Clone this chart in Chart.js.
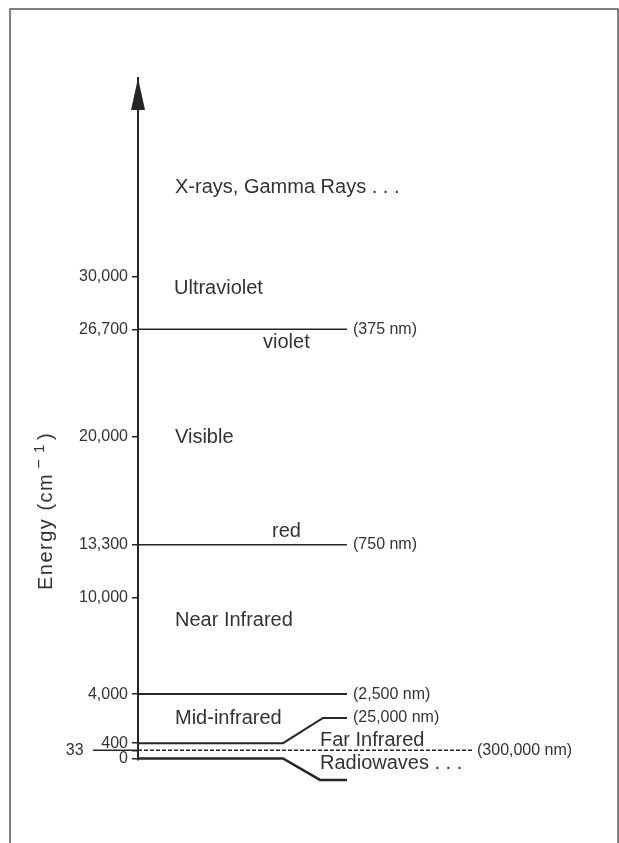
<!DOCTYPE html>
<html>
<head>
<meta charset="utf-8">
<script src="https://cdn.jsdelivr.net/npm/chart.js@4.4.0/dist/chart.umd.min.js"></script>
<style>
  html, body { margin: 0; padding: 0; background: #fff; }
  canvas { display: block; }
</style>
</head>
<body>
<canvas id="spectrumChart" width="619" height="843"></canvas>
<script>
// energy ticks on the axis (cm-1)
const tickValues = [0, 33, 400, 4000, 10000, 13300, 20000, 26700, 30000];

// boundary lines: x runs along the diagram, e is energy in cm-1
const lineX = [
    [0, 209],
    [0, 209],
    [0, 209],
    [0, 145, 185, 209],
    [-45, 0, 335],
    [0, 145, 182, 209]
];
const lineE = [
    [26700, 26700],
    [13300, 13300],
    [4000, 4000],
    [400, 400, 2250, 2250],
    [33, 33, 33],
    [0, 0, -1340, -1340]
];
const lineWidths = [1.5, 1.5, 2, 2, 1.5, 2.5];

// region names
const regionNames = ['X-rays, Gamma Rays . . .', 'Ultraviolet', 'violet', 'Visible', 'red',
    'Near Infrared', 'Mid-infrared', 'Far Infrared', 'Radiowaves . . .'];
const regionX = [37, 36, 125, 37, 134, 37, 37, 182, 182];
const regionE = [35550, 29270, 25900, 19940, 14090, 8600, 2190, 630, -290];

// wavelength of each boundary
const wavelengthNames = ['(375 nm)', '(750 nm)', '(2,500 nm)', '(25,000 nm)', '(300,000 nm)'];
const wavelengthX = [215, 215, 215, 215, 339];
const wavelengthE = [26700, 13300, 4000, 2250, 33];

const FONT = "'Liberation Sans', Arial, sans-serif";
const INK = '#262626';
const TEXT = '#333';

// the low end of the axis is stretched so 0, 33 and 400 can be told apart
const warpFrom = [-5000, 0, 33, 400, 4000, 60000];
const warpTo = [-5000, 0, 500, 950, 4000, 60000];
function interp(v, xs, ys) {
    for (let i = 1; i < xs.length; i++) {
        if (v <= xs[i] || i === xs.length - 1) {
            const t = (v - xs[i - 1]) / (xs[i] - xs[i - 1]);
            return ys[i - 1] + t * (ys[i] - ys[i - 1]);
        }
    }
}

class SchematicScale extends Chart.LinearScale {
    getPixelForValue(value) {
        return value === null ? NaN : super.getPixelForValue(interp(value, warpFrom, warpTo));
    }
    getValueForPixel(pixel) {
        return interp(super.getValueForPixel(pixel), warpTo, warpFrom);
    }
}
SchematicScale.id = 'schematic';
SchematicScale.defaults = Chart.LinearScale.defaults;
Chart.register(SchematicScale);

const datasets = lineX.map((xs, i) => ({
    data: xs.map((x, j) => ({ x: x, y: lineE[i][j] })),
    borderColor: INK,
    borderWidth: lineWidths[i],
    pointRadius: 0,
    tension: 0,
    clip: false,
    segment: i === 4 ? { borderDash: ctx => ctx.p0.parsed.x < 0 ? [] : [4, 2] } : undefined
}));

// axis title drawn in pieces so the -1 can sit raised
function drawTitle(ctx) {
    const parts = [
        { t: 'Energy (cm', size: 20, dy: 0, gap: 0 },
        { t: '\u2212', size: 16, dy: -6, gap: 4 },
        { t: '1', size: 15, dy: -6, gap: 5 },
        { t: ')', size: 20, dy: 0, gap: 3 }
    ];
    ctx.letterSpacing = '1.5px';
    let total = 0;
    parts.forEach(p => {
        ctx.font = p.size + 'px ' + FONT;
        p.w = ctx.measureText(p.t).width;
        total += p.gap + p.w;
    });
    let x = -total / 2;
    ctx.textAlign = 'left';
    parts.forEach(p => {
        x += p.gap;
        ctx.font = p.size + 'px ' + FONT;
        ctx.fillText(p.t, x, p.dy);
        x += p.w;
    });
    ctx.letterSpacing = '0px';
}

const decor = {
    id: 'decor',
    beforeDraw(chart) {
        const ctx = chart.ctx;
        ctx.save();
        ctx.strokeStyle = '#555';
        ctx.lineWidth = 1.5;
        ctx.beginPath();
        ctx.moveTo(10, 843);
        ctx.lineTo(10, 9);
        ctx.lineTo(618, 9);
        ctx.lineTo(618, 843);
        ctx.stroke();
        ctx.restore();
    },
    afterDraw(chart) {
        const ctx = chart.ctx;
        const xs = chart.scales.x, ys = chart.scales.y;
        const ax = xs.getPixelForValue(0);
        const top = chart.chartArea.top;
        ctx.save();
        // arrow head
        ctx.fillStyle = INK;
        ctx.beginPath();
        ctx.moveTo(ax, top);
        ctx.lineTo(ax - 7, top + 32);
        ctx.lineTo(ax + 7, top + 32);
        ctx.closePath();
        ctx.fill();

        ctx.fillStyle = TEXT;
        ctx.textBaseline = 'middle';
        ctx.textAlign = 'left';
        ctx.font = '20px ' + FONT;
        regionNames.forEach((t, i) => {
            ctx.fillText(t, xs.getPixelForValue(regionX[i]), ys.getPixelForValue(regionE[i]));
        });
        ctx.font = '16px ' + FONT;
        wavelengthNames.forEach((t, i) => {
            ctx.fillText(t, xs.getPixelForValue(wavelengthX[i]), ys.getPixelForValue(wavelengthE[i]));
        });

        ctx.translate(46, 511);
        ctx.rotate(-Math.PI / 2);
        drawTitle(ctx);
        ctx.restore();
    }
};

const spectrumChart = new Chart(document.getElementById('spectrumChart'), {
    type: 'line',
    data: { datasets: datasets },
    plugins: [decor],
    options: {
        responsive: false,
        animation: false,
        events: [],
        layout: { padding: { left: 0, right: 1, top: 78, bottom: 83 } },
        plugins: { legend: { display: false }, tooltip: { enabled: false } },
        scales: {
            x: { type: 'linear', min: 0, max: 480, display: false },
            y: {
                type: 'schematic',
                min: -100,
                max: 42340,
                afterFit: scale => { scale.width = 138; },
                afterBuildTicks: scale => { scale.ticks = tickValues.map(v => ({ value: v })); },
                border: { display: true, color: INK, width: 2 },
                grid: { drawOnChartArea: false, drawTicks: true, tickLength: 6, color: INK, lineWidth: 1.5 },
                ticks: {
                    autoSkip: false,
                    padding: 4,
                    color: TEXT,
                    font: { family: FONT, size: 16 },
                    callback: v => v === 33 ? '33' + ' '.repeat(10) : v.toLocaleString('en-US')
                }
            }
        }
    }
});
</script>
</body>
</html>
